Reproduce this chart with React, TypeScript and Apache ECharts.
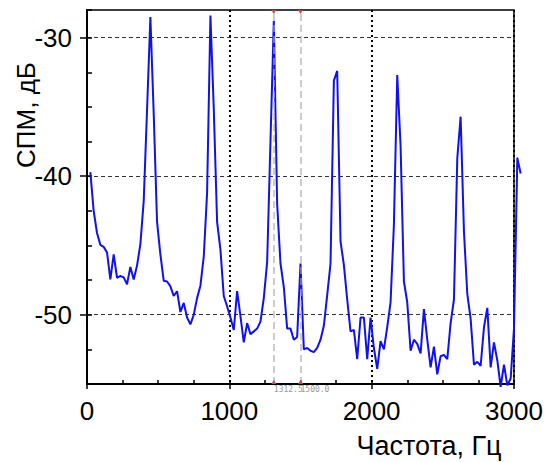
import React, { useEffect, useRef } from "react";
import * as echarts from "echarts";

// FFT bin width, Hz (bins start at k = 1)
const FREQ_STEP = 23.4375;

// Power spectral density, dB, one value per bin
const SPM_DB = [
  -39.7, -42.5, -44.1, -44.95, -45.1, -45.5, -47.45, -45.65, -47.33, -47.2,
  -47.3, -47.8, -46.55, -47.45, -46.45, -44.9, -41.8, -35.2, -28.5, -35.5,
  -43.3, -45.65, -47.55, -47.6, -47.95, -48.65, -48.3, -49.8, -49.15, -50.2,
  -50.7, -50.0, -48.8, -47.9, -45.8, -41.2, -28.4, -35.1, -43.3, -45.3,
  -48.65, -49.4, -50.2, -51.1, -48.3, -50.1, -52.0, -50.6, -51.4, -51.2,
  -51.0, -50.5, -48.8, -46.2, -37.5, -28.8, -42.0, -46.3, -48.0, -51.0,
  -51.0, -51.8, -51.6, -46.3, -52.5, -52.4, -52.6, -52.7, -52.4, -51.8,
  -50.8, -48.6, -46.3, -33.1, -32.4, -44.7, -46.4, -48.9, -51.2, -51.1,
  -53.2, -50.2, -50.2, -53.2, -50.2, -52.4, -53.9, -51.9, -52.5, -50.9,
  -49.1, -43.5, -32.7, -37.8, -47.6, -49.1, -52.6, -51.8, -52.1, -52.8,
  -49.6, -51.8, -53.8, -52.3, -54.3, -53.0, -52.9, -53.2, -50.6, -48.9,
  -38.7, -35.7, -44.0, -48.5, -50.3, -53.6, -53.4, -53.7, -50.9, -49.5,
  -53.8, -52.0, -53.3, -55.2, -53.6, -55.1, -54.6, -51.0, -38.7, -39.8,
];

const X_MIN = 0;
const X_MAX = 3000;
const X_MAJOR_STEP = 1000;
const X_MINOR_STEP = 250;
const Y_MIN = -55;
const Y_MAX = -28;
const Y_MINOR_STEP = 2.5;
const Y_MAJOR = [-50, -40, -30];

const CURSORS = [1312.5, 1500];
const CURSOR_LABELS = ["1312.5", "1500.0"];

const X_TITLE = "Частота, Гц";
const Y_TITLE = "СПМ, дБ";

const FONT = '"Liberation Sans", Arial, sans-serif';
const LINE_COLOR = "#1010f0";
const LINE_WIDTH = 2;

export default function App() {
  const ref = useRef<HTMLDivElement>(null);

  useEffect(() => {
    document.body.style.margin = "0";
    if (!ref.current) return;
    const chart = echarts.init(ref.current, null, { renderer: "svg" });

    const allPts = SPM_DB.map((v, i) => [(i + 1) * FREQ_STEP, v]);
    // points inside the axis range go to the line series; the tail that runs
    // past the right edge of the plot is drawn by a custom (unclipped) series
    let lastIn = allPts.length - 1;
    while (lastIn > 0 && allPts[lastIn][0] > X_MAX) lastIn--;
    const inPts = allPts.slice(0, lastIn + 1);
    const tailPts = allPts.slice(lastIn);

    const markPts: any[] = [];
    CURSORS.forEach((c) => {
      markPts.push({ coord: [c, Y_MAX], symbol: "triangle", symbolRotate: 180, symbolSize: [5, 4], symbolOffset: [0, 2] });
      markPts.push({ coord: [c, Y_MIN], symbol: "triangle", symbolRotate: 0, symbolSize: [5, 4], symbolOffset: [0, -2] });
    });

    chart.setOption({
      animation: false,
      grid: {
        left: 87,
        right: 38,
        top: 10,
        bottom: 78,
        show: true,
        borderColor: "#000",
        borderWidth: 1.5,
        backgroundColor: "transparent",
      },
      xAxis: [
        {
          type: "value",
          min: X_MIN,
          max: X_MAX,
          interval: X_MINOR_STEP,
          position: "bottom",
          axisLine: { show: true, onZero: false, lineStyle: { color: "#000", width: 2 } },
          axisTick: { show: true, inside: true, length: 4, lineStyle: { color: "#000", width: 1.5 } },
          axisLabel: { show: false },
          splitLine: { show: false },
        },
        {
          type: "value",
          min: X_MIN,
          max: X_MAX,
          interval: X_MAJOR_STEP,
          position: "bottom",
          offset: 0,
          axisLine: { show: false, onZero: false },
          axisTick: { show: true, inside: false, length: 5, lineStyle: { color: "#000", width: 1.5 } },
          axisLabel: {
            show: true,
            fontSize: 26,
            color: "#000",
            fontFamily: FONT,
            margin: 14,
            formatter: (v: number) => String(v),
          },
          splitLine: { show: true, lineStyle: { color: "#000", width: 2, type: [2, 3] } },
        },
      ],
      yAxis: [
        {
          type: "value",
          min: Y_MIN,
          max: Y_MAX,
          interval: Y_MINOR_STEP,
          position: "left",
          axisLine: { show: true, onZero: false, lineStyle: { color: "#000", width: 2 } },
          axisTick: { show: true, inside: true, length: 5, lineStyle: { color: "#000", width: 1.5 } },
          axisLabel: { show: false },
          splitLine: { show: false },
        },
        {
          type: "value",
          min: Y_MIN,
          max: Y_MAX,
          position: "left",
          offset: 0,
          axisLine: { show: false, onZero: false },
          axisTick: { show: true, inside: false, length: 7, customValues: Y_MAJOR, lineStyle: { color: "#000", width: 1.5 } },
          axisLabel: {
            show: true,
            customValues: Y_MAJOR,
            fontSize: 26,
            color: "#000",
            fontFamily: FONT,
            margin: 15,
            formatter: (v: number) => String(v),
          },
          splitLine: { show: true, lineStyle: { color: "#333", width: 1, type: [4, 3] } },
        },
      ],
      graphic: [
        {
          type: "text",
          x: 26,
          y: 115,
          rotation: Math.PI / 2,
          style: { text: Y_TITLE, font: `26px ${FONT}`, fill: "#000", align: "center", verticalAlign: "middle" },
        },
        {
          type: "text",
          x: 429,
          y: 446,
          style: { text: X_TITLE, font: `27px ${FONT}`, fill: "#000", align: "center", verticalAlign: "middle" },
        },
      ],
      series: [
        {
          type: "line",
          xAxisIndex: 0,
          yAxisIndex: 0,
          data: inPts,
          showSymbol: false,
          symbol: "none",
          clip: false,
          lineStyle: { color: LINE_COLOR, width: LINE_WIDTH },
          markLine: {
            silent: true,
            symbol: "none",
            animation: false,
            lineStyle: { color: "rgba(170,170,170,0.8)", type: [7, 4], width: 1.5 },
            label: {
              show: true,
              position: "start",
              fontSize: 8,
              color: "#999",
              fontFamily: "DejaVu Sans Mono, monospace",
              align: "left",
              verticalAlign: "top",
              distance: 1,
            },
            data: CURSORS.map((c, i) => ({ xAxis: c, label: { formatter: CURSOR_LABELS[i] } })),
          },
          markPoint: {
            silent: true,
            animation: false,
            label: { show: false },
            itemStyle: { color: "#c05050" },
            data: markPts,
          },
        },
        {
          type: "custom",
          xAxisIndex: 0,
          yAxisIndex: 0,
          clip: false,
          silent: true,
          data: tailPts,
          renderItem: (params: any, api: any) => {
            if (params.dataIndex !== 0) return null;
            const pts = tailPts.map((p) => api.coord(p));
            return {
              type: "polyline",
              shape: { points: pts },
              style: { stroke: LINE_COLOR, lineWidth: LINE_WIDTH, fill: "none", lineJoin: "round" },
            };
          },
        },
      ],
    });

    return () => chart.dispose();
  }, []);

  return <div ref={ref} style={{ width: 552, height: 462 }} />;
}
